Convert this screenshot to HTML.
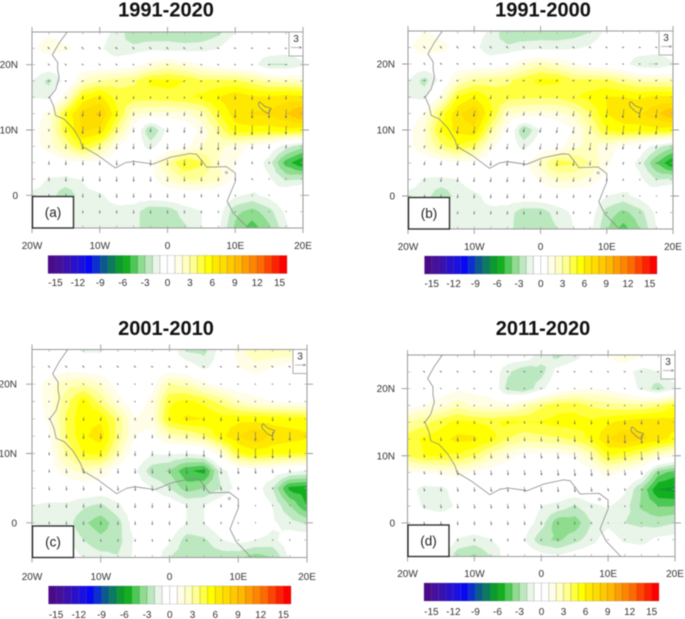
<!DOCTYPE html>
<html lang="en">
<head>
<meta charset="utf-8">
<title>Wind and anomaly maps, 1991-2020</title>
<style>
html,body{margin:0;padding:0;background:#fff;width:685px;height:619px;overflow:hidden}
svg{display:block;filter:blur(0.6px)}
text{font-family:"Liberation Sans",sans-serif}
</style>
</head>
<body>
<svg id="figure" xmlns="http://www.w3.org/2000/svg" width="685" height="619" viewBox="0 0 685 619"></svg>
<script>
/* ---------- axes / categories ---------- */
const lons = [-20,-17.5,-15,-12.5,-10,-7.5,-5,-2.5,0,2.5,5,7.5,10,12.5,15,17.5,20];
const lats = [25,22.5,20,17.5,15,12.5,10,7.5,5,2.5,0,-2.5,-5];
const windLons = [-17.5,-15,-12.5,-10,-7.5,-5,-2.5,0,2.5,5,7.5,10,12.5,15,17.5];
const windLats = [22.5,20,17.5,15,12.5,10,7.5,5,2.5,0,-2.5];
const lonTicks = [-20,-10,0,10,20];
const lonTickLabels = ["20W","10W","0","10E","20E"];
const latTicks = [20,10,0];
const latTickLabels = ["20N","10N","0"];
const barTicks = [-15,-12,-9,-6,-3,0,3,6,9,12,15];
const barLevels = [-16,-15,-14,-13,-12,-11,-10,-9,-8,-7,-6,-5,-4,-3,-2,-1,0,1,2,3,4,5,6,7,8,9,10,11,12,13,14,15];
const barColors = ["#4b0a8c","#460f9c","#3a10b0","#2a10cc","#1a10e2","#0808f6","#0a30d0","#0a5a90","#0a7a60","#0a9a30","#12b01e","#4cc854","#8edc8e","#bce8c0","#e8f5e8","#ffffff","#ffffff","#fffde6","#ffffc0","#ffff90","#ffff40","#ffff00","#ffe800","#ffdc00","#ffc800","#ffb800","#ff9c00","#ff8400","#ff6a00","#ff4400","#ff2000","#ff0000"];

/* ---------- anomaly fields (rows follow lats, columns follow lons) ---------- */
const fieldA = [
[.5,.8,.3,0,-.4,-1.3,-2.8,-2.9,-2.6,-3,-2.9,-2.3,-1,0,1,1.1,.5],
[.8,1.5,1.2,.6,-.7,-2,-1.7,-1.3,-1.5,-1.5,-1.4,-1,0,0,0,-.3,0],
[0,0,0,0,.2,0,.5,1.5,2.3,1.7,1,.3,0,-.5,-2.1,-2.1,-1.3],
[-1,-2.3,-.5,2.2,3,3.5,3.8,5.2,5.3,5,4.2,4.2,4.2,3.6,2.8,2.5,2.3],
[-1,-1.2,1.8,5.4,6.3,4.6,4.5,4.5,4.6,4.8,5.2,6,6.8,6.2,6.1,6.5,6.3],
[.2,1.4,5,7.5,8.2,5.2,2.2,1.8,1.6,1.8,2.6,4.8,6.6,7.1,7.2,8,9.3],
[.5,1.8,4.8,7.2,6.8,3.6,.6,-3.1,-.7,0,1.2,3.4,5.5,5.6,5.5,5.7,5.5],
[.4,1.5,3.2,5,3.6,1.2,-.2,-1.4,0,.5,2,2.2,1.6,.8,0,-1.5,-2.7],
[0,0,.5,.8,.5,0,0,.8,3,5.1,4.3,2,1,0,-1.5,-4.5,-6],
[-.3,-1.1,-1.2,-.9,-.3,0,0,.5,2,3,3,2.3,.7,0,-.8,-2.2,-2],
[-1.3,-1.4,-2.8,-1.3,-1.1,-.7,-.3,-.2,0,0,0,-.2,-.8,-1.2,-.6,.2,1.2],
[-1.3,-1.3,-1.3,-1.2,-1.2,-1.2,-1.5,-2.8,-2.7,-1.5,-1,-.3,-2.7,-3.4,-2.4,-.7,.8],
[-1.2,-1.2,-1.2,-1.2,-1.2,-1.2,-1.5,-2.9,-2.9,-2.2,-1,-.8,-3.2,-4.5,-3.2,-1.2,-.3]
];
const fieldB = [
[.5,1,.6,0,-.3,-1.2,-2.8,-3,-2.7,-2.8,-2.6,-2.1,-.7,0,.9,1,.4],
[.8,1.6,1.4,.6,-.6,-1.9,-1.8,-1.4,-1.4,-1.4,-1.2,-.8,0,0,0,-.2,0],
[0,0,0,0,.2,0,.6,1.8,2.6,2,1.2,.4,0,-.5,-1.9,-2.1,-1.2],
[-1,-2.4,-.6,2.2,3.2,3.5,3.8,4.6,5.3,5.2,4.2,4.2,4.2,3.4,2.8,2.6,2.6],
[-1.1,-1.3,1.5,5,6,4.8,4.4,4.2,4.2,4.2,4.8,5.4,6,6,5.8,6.2,6.1],
[0,1.2,4.4,6.8,7.8,5.2,2.2,1.8,1.5,1.7,2.4,4,6,6.8,6.9,7.8,9],
[.6,2,5.2,6.4,6.8,3.4,.6,-3.1,-.9,-.2,1,2.8,5,5.5,5.5,5.7,5.5],
[.6,1.8,3.6,4.8,4,1.4,-.3,-1.3,0,.4,1.8,2.2,1.6,.7,-.1,-1.5,-2.8],
[0,0,.4,.8,.5,0,0,.6,2.3,4.4,4.1,3,1.2,0,-1.4,-4,-6],
[-.4,-1.1,-1.2,-1,-.4,0,0,.2,1.2,2.2,2.2,1.6,.5,0,-.7,-2,-1.8],
[-1.3,-1.4,-2.9,-1.5,-1.2,-.7,-.3,-.2,0,0,0,-.2,-1,-1.3,-.6,.2,1.2],
[-1.3,-1.3,-1.3,-1.2,-1.2,-1.2,-1.5,-2.6,-2.6,-1.5,-.8,-.3,-2.4,-3.3,-2.4,-.7,.6],
[-1.2,-1.2,-1.2,-1.2,-1.2,-1.2,-1.5,-2.9,-2.9,-2,-1,-.7,-2.9,-4.4,-3,-1,-.2]
];
const fieldC = [
[0,0,-.5,-1.2,-1.2,0,0,1.2,0,-2.2,-2.4,-.5,1.5,3,3,3,2.6],
[0,0,.3,0,0,0,0,0,0,-.3,-1.3,-.3,1,1.6,1,.5,0],
[.3,1.5,2.6,2.9,2,.3,0,.5,3,2.6,1.4,.5,0,0,0,0,0],
[.3,1.5,3.6,5.6,3.6,1.5,0,1.4,4.8,5.3,4.7,3.6,2.2,1.4,1,.7,.5],
[.2,1.2,4.2,5.8,5.8,3.6,1,1.7,5.3,6.2,6,5.5,5.6,5.6,5.5,5.4,5.3],
[0,.8,4,5.8,6.5,3.6,1,.6,2.5,3,3.8,5.6,7,8,6.8,6.5,6.2],
[0,.6,3.2,5,5.2,2.6,0,-.9,-.8,-1,-.6,1.7,4.8,5.5,5.2,5,4.9],
[0,.4,1.5,2.4,1.8,.2,-.8,-2.6,-3.1,-4.8,-5.3,-1.5,0,.3,0,-.7,-1],
[0,0,0,.2,0,0,-.2,-1,-2,-3.5,-3,-2,-.5,-.3,-2,-5.3,-5.6],
[-1,-1.2,-1.2,-1.8,-2.2,-1.2,0,0,0,-1,-1,0,1,0,-1,-3,-5],
[-1,-1.1,-1.5,-2.8,-3.6,-2.4,-.3,0,0,-1,-1,0,.8,0,-.8,-1.5,-2.2],
[-1,-.6,-1,-2,-2.7,-2.4,-.8,-.1,-.8,-2.5,-2.2,-1.1,-.5,-1,-1.3,-.2,0],
[0,0,.5,-1.2,-1.6,-1.9,-.7,0,-2,-2.6,-2.7,-2.6,-2.8,-3.5,-3,-.8,0]
];
const fieldD = [
[-1,-.3,0,.8,.8,.2,0,0,-1.5,-2.3,-1.5,0,1,2.3,1.2,0,0],
[0,0,.5,1,1,0,-1.8,-2.8,-2.4,-.5,0,0,0,-.5,-1.5,-1,-.3],
[0,0,.3,.7,.5,.3,-2.4,-2.8,-1.3,0,.8,1,.8,0,-1.3,-2.5,-1.2],
[.6,1,1.6,2.6,1.8,1.6,1.6,2.5,3.8,4.6,4.6,3.8,3.4,3.2,3.2,3.8,5],
[3,3.6,4.6,5.3,5,4.8,5.2,5,5.1,5.4,5.5,5.3,5.8,6.3,6.7,6.6,6.4],
[4.5,5.2,5.6,6.3,6.2,5.3,4,3.3,3.6,3.8,4.2,5.2,7,7.8,7.2,6.5,5.6],
[4,5,5,4.8,4,2.5,1.4,.6,.5,.6,1,2.6,5,4.4,3.4,2,1],
[.8,1,1.3,1.5,.8,.3,0,0,0,0,.2,.5,1.5,.7,0,-3.5,-4.5],
[-.3,-1.5,-1.4,-.3,0,0,0,0,0,0,0,0,0,-.8,-3,-6,-6.3],
[0,-1.2,-1.5,-.8,0,0,0,0,-1,-1.3,-2.1,-1.2,-.9,-1.5,-3.2,-4,-4],
[.5,0,0,0,0,0,0,-.3,-1.5,-3.7,-3.6,-2,-1.3,-2,-2.2,-2.4,-2],
[.5,0,0,-1.1,-1.4,-1,-.8,-1,-2.7,-3.2,-2.4,-1.4,-.3,-1.2,-1.4,-.7,-.5],
[0,0,0,-2.7,-3.2,-2,-.2,0,-.5,-.8,-.2,0,0,0,0,0,0]
];

/* ---------- meridional wind (rows follow windLats, columns follow windLons) ---------- */
const windVA = [
[.6,.6,.6,.6,.5,.5,.5,.5,.4,.4,.3,.2,.2,.1,.1],
[.4,.4,.3,.3,.3,.2,.2,.2,.2,.1,.1,.1,0,0,0],
[-.1,-.1,-.2,-.2,-.2,-.2,-.3,-.3,-.3,-.3,-.3,-.2,-.2,-.1,-.1],
[-.3,-.6,-.9,-1,-1,-.8,-.6,-.5,-.6,-.7,-.9,-1.1,-1.2,-1.1,-1],
[-.5,-1.2,-1.5,-1.5,-1.4,-1,-.9,-.9,-1,-1.3,-1.8,-2.2,-2.4,-2.4,-2.3],
[-.6,-1.4,-2,-1.8,-1.5,-1.2,-1.1,-1.2,-1.4,-1.8,-2.2,-2.6,-2.6,-2.5,-2.3],
[-.7,-1.3,-1.6,-1.6,-1.5,-1.4,-1.4,-1.5,-1.6,-1.9,-2,-1.8,-1.5,-1.2,-1],
[-1,-1.2,-1.2,-1.2,-1.3,-1.4,-1.5,-1.5,-1.6,-1.5,-1.2,-1,-.7,-.4,-.3],
[-1,-1.2,-1.2,-1.2,-1.3,-1.3,-1.3,-1.3,-1.2,-1.1,-1,-.8,-.5,-.2,-.1],
[-.8,-1,-1,-1.1,-1.1,-1.1,-1.1,-1.1,-1,-.9,-.7,-.4,-.2,-.1,0],
[-.5,-.7,-.7,-.8,-.8,-.9,-.9,-.9,-.8,-.7,-.5,-.3,-.1,.1,.2]
];
const windVB = [
[.6,.6,.6,.5,.5,.5,.5,.4,.4,.4,.3,.2,.2,.1,.1],
[.4,.4,.3,.3,.2,.2,.2,.2,.2,.1,.1,.1,0,0,0],
[-.1,-.1,-.2,-.2,-.3,-.3,-.3,-.3,-.3,-.3,-.3,-.2,-.2,-.1,-.1],
[-.3,-.6,-.8,-1,-1,-.9,-.7,-.6,-.6,-.7,-.9,-1,-1.1,-1.1,-1],
[-.5,-1.1,-1.4,-1.5,-1.4,-1.1,-1,-1,-1.1,-1.3,-1.7,-2.1,-2.3,-2.3,-2.2],
[-.6,-1.3,-1.9,-1.8,-1.5,-1.2,-1.2,-1.3,-1.5,-1.8,-2.2,-2.5,-2.5,-2.4,-2.3],
[-.7,-1.2,-1.5,-1.6,-1.5,-1.4,-1.5,-1.5,-1.7,-1.9,-2,-1.8,-1.5,-1.2,-1],
[-1,-1.1,-1.2,-1.2,-1.3,-1.4,-1.5,-1.5,-1.6,-1.5,-1.2,-1,-.7,-.4,-.3],
[-1,-1.1,-1.2,-1.2,-1.3,-1.3,-1.3,-1.3,-1.2,-1.1,-1,-.8,-.5,-.2,-.1],
[-.8,-1,-1,-1.1,-1.1,-1.1,-1.1,-1.1,-1,-.9,-.7,-.4,-.2,-.1,0],
[-.5,-.7,-.7,-.8,-.8,-.9,-.9,-.9,-.8,-.7,-.5,-.3,-.1,.1,.2]
];
const windVC = [
[.5,.5,.5,.4,.4,.4,.3,.3,.3,.3,.2,.3,.4,.4,.3],
[.2,.2,.2,.2,.2,.1,.1,.1,.1,.1,.1,.1,.1,.1,0],
[-.2,-.3,-.3,-.3,-.3,-.2,-.2,-.3,-.3,-.3,-.2,-.2,-.1,-.1,-.1],
[-.4,-.7,-1,-1,-.9,-.7,-.7,-.8,-.9,-1,-1.1,-1.2,-1.2,-1.1,-1],
[-.7,-1.1,-1.4,-1.4,-1.2,-1,-1,-1.1,-1.2,-1.5,-1.8,-2.3,-2.5,-2.4,-2.3],
[-.8,-1.3,-1.6,-1.6,-1.4,-1.2,-1.2,-1.3,-1.5,-1.8,-2.2,-2.6,-2.6,-2.5,-2.3],
[-.8,-1.2,-1.4,-1.4,-1.3,-1.3,-1.3,-1.4,-1.6,-1.7,-1.7,-1.6,-1.4,-1.1,-.9],
[-1,-1.1,-1.1,-1.2,-1.2,-1.3,-1.4,-1.4,-1.4,-1.3,-1.1,-.8,-.6,-.4,-.2],
[-1,-1.1,-1.1,-1.1,-1.2,-1.2,-1.2,-1.2,-1.1,-1,-.8,-.6,-.3,-.2,-.1],
[-.7,-.9,-1,-1,-1,-1,-1,-1,-.9,-.7,-.5,-.3,-.1,0,.1],
[-.4,-.6,-.7,-.7,-.7,-.7,-.7,-.7,-.6,-.5,-.3,-.1,.1,.2,.3]
];
const windVD = [
[.4,.4,.4,.4,.4,.3,.3,.3,.3,.2,.2,.2,.2,.2,.1],
[.2,.2,.2,.2,.1,.1,.1,.1,.1,.1,.1,0,0,0,0],
[-.2,-.2,-.2,-.2,-.2,-.2,-.3,-.3,-.3,-.3,-.3,-.3,-.2,-.2,-.1],
[-.4,-.6,-.8,-.8,-.8,-.7,-.7,-.8,-.9,-1,-1.1,-1.2,-1.2,-1.1,-1],
[-.7,-1,-1.2,-1.2,-1.2,-1.1,-1.1,-1.2,-1.4,-1.6,-1.9,-2.2,-2.3,-2.3,-2.2],
[-.8,-1.2,-1.4,-1.4,-1.3,-1.3,-1.3,-1.4,-1.6,-1.9,-2.2,-2.4,-2.4,-2.3,-2.2],
[-.8,-1.1,-1.3,-1.3,-1.3,-1.3,-1.3,-1.4,-1.6,-1.8,-1.8,-1.6,-1.4,-1.1,-.9],
[-.9,-1,-1.1,-1.1,-1.2,-1.2,-1.3,-1.3,-1.3,-1.3,-1.1,-.8,-.6,-.4,-.2],
[-.9,-1,-1.1,-1.1,-1.1,-1.2,-1.2,-1.1,-1.1,-1,-.8,-.5,-.3,-.1,0],
[-.7,-.9,-1,-1,-1,-1,-1,-.9,-.8,-.7,-.5,-.2,-.1,0,0],
[-.4,-.6,-.7,-.7,-.7,-.7,-.7,-.6,-.6,-.4,-.2,0,.1,.1,.2]
];
/* zonal wind, one estimate per windLats row */
const windUA = [-.5,-.4,-.5,-.1,-.1,-.1,-.1,0,0,0,0];
const windUB = [-.5,-.4,-.5,-.2,-.3,-.3,-.3,-.2,-.2,-.1,-.1];
const windUC = [-.5,-.3,-.3,0,0,0,.1,.1,0,0,.1];
const windUD = [-.4,-.3,-.3,0,.1,.2,.2,.2,.2,.1,.1];

/* ---------- geography ---------- */
const coastLon = [-14.8,-16,-17,-16.2,-16.2,-16,-16.5,-17.4,-16.8,-16.5,-15.3,-14,-12.9,-12.6,-10.4,-7.7,-6.2,-5,-2.1,.4,3.3,4.3,5,5.8,8.7,10,10,9.5,8.8,9.7,11.9];
const coastLat = [25,23.3,21.5,20.3,19.2,18,16.2,15,13.6,12.2,11.7,10.3,8.5,7.5,6.2,4.2,5,5.2,4.8,5.8,6.4,6.3,5.4,4.3,4.4,3.4,2.1,.9,-.9,-2.7,-5];
const lakeLon = [13.4,13.6,14.4,15.3,14.9,14.2,13.5,13.4];
const lakeLat = [14.1,14.3,13.6,13.3,12.5,12.9,13.6,14.1];

/* ---------- panel layout ---------- */
const panels = [
 {id:"a",title:"1991-2020",tx:166,ty:16.5,x0:32,x1:303,y0:32,y1:228,field:fieldA,vv:windVA,uu:windUA,lx0:48,lx1:287,by0:255.5,by1:273.5,bl:286,ylx:18,xly:249},
 {id:"b",title:"1991-2000",tx:543,ty:16.5,x0:408,x1:673,y0:31,y1:229,field:fieldB,vv:windVB,uu:windUB,lx0:424.5,lx1:657,by0:256,by1:274,bl:287,ylx:395,xly:250},
 {id:"c",title:"2001-2010",tx:166,ty:335,x0:32,x1:307,y0:349.5,y1:557.5,field:fieldC,vv:windVC,uu:windUC,lx0:48.5,lx1:291,by0:586,by1:604,bl:618,ylx:17,xly:580},
 {id:"d",title:"2011-2020",tx:543,ty:335,x0:407.5,x1:675,y0:355,y1:556.5,field:fieldD,vv:windVD,uu:windUD,lx0:424,lx1:659,by0:583,by1:601,bl:615,ylx:395,xly:577}
];

const NS = "http://www.w3.org/2000/svg";
const root = document.getElementById("figure");
function el(tag, parent, attrs, txt){
  const e = document.createElementNS(NS, tag);
  for (const k in attrs) e.setAttribute(k, attrs[k]);
  if (txt !== undefined) e.textContent = txt;
  parent.appendChild(e);
  return e;
}
function clipTri(tri, level, sign){
  const out = [];
  for (let i = 0; i < 3; i++){
    const a = tri[i], b = tri[(i + 1) % 3];
    const ia = sign * (a[2] - level) >= 0, ib = sign * (b[2] - level) >= 0;
    if (ia) out.push(a);
    if (ia !== ib){
      const t = (level - a[2]) / (b[2] - a[2]);
      out.push([a[0] + t * (b[0] - a[0]), a[1] + t * (b[1] - a[1]), level]);
    }
  }
  return out;
}
function drawPanel(p){
  const g = el("g", root, {});
  
  
  const X = lon => p.x0 + (lon + 20) / 40 * (p.x1 - p.x0);
  const Y = lat => p.y0 + (25 - lat) / 30 * (p.y1 - p.y0);
  const title = el("text", g, {x:p.tx, y:p.ty, "text-anchor":"middle", "font-size":20, "font-weight":"bold", fill:"#111"}, p.title);
  
  
  const bg = el("rect", g, {x:p.x0, y:p.y0, width:p.x1-p.x0, height:p.y1-p.y0, fill:"#fff"});
  
  

  /* triangles: every grid cell is split around its mean value */
  const tris = [];
  for (let r = 0; r < lats.length - 1; r++){
    for (let c = 0; c < lons.length - 1; c++){
      const A = [X(lons[c]), Y(lats[r]), p.field[r][c]];
      const B = [X(lons[c+1]), Y(lats[r]), p.field[r][c+1]];
      const C = [X(lons[c+1]), Y(lats[r+1]), p.field[r+1][c+1]];
      const D = [X(lons[c]), Y(lats[r+1]), p.field[r+1][c]];
      const M = [(A[0]+C[0])/2, (A[1]+C[1])/2, (A[2]+B[2]+C[2]+D[2])/4];
      tris.push([A,B,M],[B,C,M],[C,D,M],[D,A,M]);
    }
  }
  function band(level, sign, color){
    let d = "";
    for (const t of tris){
      const poly = clipTri(t, level, sign);
      if (poly.length < 3) continue;
      d += "M" + poly.map(q => q[0].toFixed(2) + " " + q[1].toFixed(2)).join("L") + "Z";
    }
    if (!d) return;
    const path = el("path", g, {d:d, fill:color, stroke:color, "stroke-width":0.35, "stroke-linejoin":"round"});
    
    
  }
  barLevels.forEach((lv, i) => {
    if (lv >= 1) band(lv, 1, barColors[i]);
  });
  for (let i = barLevels.length - 1; i >= 0; i--){
    const lv = barLevels[i];
    if (lv + 1 <= -1) band(lv + 1, -1, barColors[i]);
  }

  /* coast and lake */
  const coast = el("polyline", g, {points:coastLon.map((v,i)=>X(v).toFixed(1)+","+Y(coastLat[i]).toFixed(1)).join(" "), fill:"none", stroke:"#8a8a8a", "stroke-width":0.8});
  
  
  const lake = el("polyline", g, {points:lakeLon.map((v,i)=>X(v).toFixed(1)+","+Y(lakeLat[i]).toFixed(1)).join(" "), fill:"none", stroke:"#777", "stroke-width":0.7});
  
  
  const islet = el("circle", g, {cx:X(8.7), cy:Y(3.5), r:1.1, fill:"none", stroke:"#888", "stroke-width":0.6});
  
  

  /* wind arrows */
  const scale = 11 / 3;
  windLats.forEach((lat, r) => {
    windLons.forEach((lon, c) => {
      const u = p.uu[r] * scale, v = -p.vv[r][c] * scale;
      const cx = X(lon), cy = Y(lat);
      const len = Math.hypot(u, v) || 0.01;
      const ux = u / len, uy = v / len;
      const x1 = cx - u / 2, y1 = cy - v / 2, x2 = cx + u / 2, y2 = cy + v / 2;
      const h = Math.min(2, 0.7 + len * 0.2);
      const d = "M" + x1.toFixed(2) + " " + y1.toFixed(2) + "L" + x2.toFixed(2) + " " + y2.toFixed(2) +
        "M" + (x2 - h*ux - h*0.45*uy).toFixed(2) + " " + (y2 - h*uy + h*0.45*ux).toFixed(2) +
        "L" + x2.toFixed(2) + " " + y2.toFixed(2) +
        "L" + (x2 - h*ux + h*0.45*uy).toFixed(2) + " " + (y2 - h*uy - h*0.45*ux).toFixed(2);
      const arrow = el("path", g, {d:d, fill:"none", stroke:"#707070", "stroke-width":0.6});
      
      
    });
  });

  /* minor ticks */
  let minor = "";
  lats.forEach(lat => {
    minor += "M" + p.x0 + " " + Y(lat) + "h3M" + p.x1 + " " + Y(lat) + "h-3";
  });
  lons.forEach(lon => {
    minor += "M" + X(lon) + " " + p.y0 + "v2.5M" + X(lon) + " " + p.y1 + "v-2.5";
  });
  const minorTicks = el("path", g, {d:minor, stroke:"#aaa", "stroke-width":0.7, fill:"none"});
  
  

  /* frame */
  const frame = el("rect", g, {x:p.x0, y:p.y0, width:p.x1-p.x0, height:p.y1-p.y0, fill:"none", stroke:"#9a9a9a", "stroke-width":1});
  
  

  /* axes */
  lonTicks.forEach((lon, i) => {
    const t = el("path", g, {d:"M"+X(lon)+" "+(p.y0-5)+"V"+p.y0+"M"+X(lon)+" "+p.y1+"v5", stroke:"#999", "stroke-width":0.9});
    
    
    const l = el("text", g, {x:X(lon), y:p.xly, "text-anchor":"middle", "font-size":10, fill:"#333"}, lonTickLabels[i]);
    
    
  });
  latTicks.forEach((lat, i) => {
    const t = el("path", g, {d:"M"+(p.x0-6)+" "+Y(lat)+"H"+p.x0+"M"+p.x1+" "+Y(lat)+"h6", stroke:"#999", "stroke-width":0.9});
    
    
    const l = el("text", g, {x:p.ylx, y:Y(lat)+3.5, "text-anchor":"end", "font-size":10, fill:"#333"}, latTickLabels[i]);
    
    
  });

  /* reference vector box */
  const kx = p.x1 - 14;
  const key = el("rect", g, {x:kx, y:p.y0, width:14, height:24, fill:"#fff", stroke:"#999", "stroke-width":0.8});
  
  
  const keyText = el("text", g, {x:kx+7, y:p.y0+10, "text-anchor":"middle", "font-size":10, fill:"#333"}, "3");
  
  
  const keyArrow = el("path", g, {d:"M"+(kx+2)+" "+(p.y0+15.5)+"h10.5m-2.2 -1l2.2 1l-2.2 1", fill:"none", stroke:"#777", "stroke-width":0.6});
  
  

  /* panel tag */
  const tagBox = el("rect", g, {x:p.x0+0.5, y:p.y1-31.5, width:41, height:31.5, fill:"#fff", stroke:"#222", "stroke-width":1.3});
  
  
  const tag = el("text", g, {x:p.x0+21, y:p.y1-11, "text-anchor":"middle", "font-size":13.5, fill:"#222"}, "(" + p.id + ")");
  
  

  /* colour bar */
  const w = (p.lx1 - p.lx0) / barLevels.length;
  const BX = v => p.lx0 + (v - barLevels[0]) * w;
  barLevels.forEach((lv, i) => {
    const box = el("rect", g, {x:BX(lv), y:p.by0, width:w, height:p.by1-p.by0, fill:barColors[i], stroke:"rgba(70,70,70,0.35)", "stroke-width":0.5});
    
    
  });
  barTicks.forEach(v => {
    const l = el("text", g, {x:BX(v), y:p.bl, "text-anchor":"middle", "font-size":10, fill:"#333"}, String(v));
    
    
  });
}
panels.forEach(drawPanel);
</script>
</body>
</html>
